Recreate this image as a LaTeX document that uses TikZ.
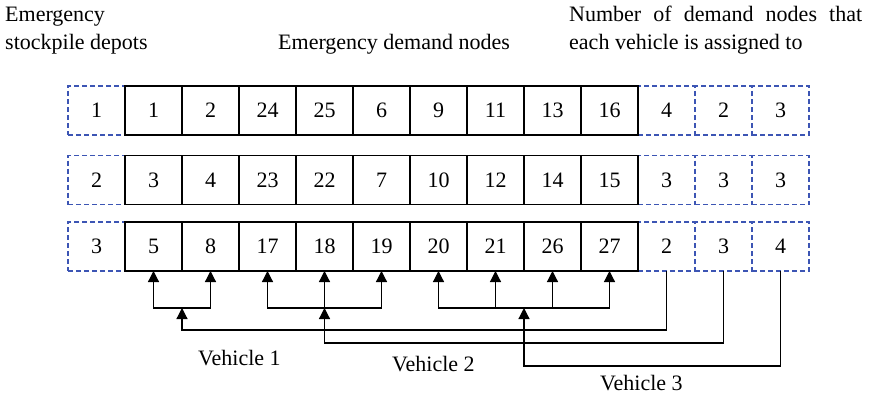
\documentclass[tikz,border=0pt]{standalone}
\usepackage{fontspec}
\setmainfont{Liberation Serif}
\usetikzlibrary{arrows.meta}
\definecolor{dblue}{RGB}{60,85,180}
\begin{document}
\begin{tikzpicture}[x=1pt,y=-1pt,
  every node/.style={font=\fontsize{22}{26}\selectfont},
  cell/.style={draw=black, line width=1.2pt, minimum width=57pt, minimum height=49pt, inner sep=0pt, outer sep=0pt},
  dcell/.style={draw=dblue, dash pattern=on 5pt off 3pt, line width=1.2pt, minimum width=57pt, minimum height=49pt, inner sep=0pt, outer sep=0pt},
  link/.style={line width=1.2pt, draw=black},
  arr/.style={link, -{Triangle[length=11pt,width=11pt]}},
  arrs/.style={link, {Triangle[length=11pt,width=11pt]}-{Triangle[length=11pt,width=11pt]}},
  lbl/.style={anchor=base west, inner sep=0pt}
]
\useasboundingbox (0,0) rectangle (881,396);

% row 1
\node[dcell] (r1c0) at (96.5,110.5) {1};
\foreach \v [count=\i from 10] in {4,2,3} \node[dcell] (r1c\i) at ({96.5+57*\i},110.5) {\v};
\foreach \v [count=\i] in {1,2,24,25,6,9,11,13,16} \node[cell] (r1c\i) at ({96.5+57*\i},110.5) {\v};
% row 2
\node[dcell] (r2c0) at (96.5,180) {2};
\foreach \v [count=\i from 10] in {3,3,3} \node[dcell] (r2c\i) at ({96.5+57*\i},180) {\v};
\foreach \v [count=\i] in {3,4,23,22,7,10,12,14,15} \node[cell] (r2c\i) at ({96.5+57*\i},180) {\v};
% row 3
\node[dcell] (r3c0) at (96.5,246.5) {3};
\foreach \v [count=\i from 10] in {2,3,4} \node[dcell] (r3c\i) at ({96.5+57*\i},246.5) {\v};
\foreach \v [count=\i] in {5,8,17,18,19,20,21,26,27} \node[cell] (r3c\i) at ({96.5+57*\i},246.5) {\v};

% headings
\node[lbl] (t1) at (5,21.7) {Emergency};
\node[lbl] (t2) at (5,49.5) {stockpile depots};
\node[lbl] (t3) at (278,49.5) {Emergency demand nodes};
\node[lbl] (t4) at (569,21.7) {\hbox to 293pt{Number\hfill of\hfill demand\hfill nodes\hfill that}};
\node[lbl] (t5) at (569,49.5) {each vehicle is assigned to};

% connectors
\coordinate (h) at (0,308);
\coordinate (g1) at (0,330);
\coordinate (g2) at (0,343);
\coordinate (g3) at (0,366);

\draw[arrs] (r3c1.south) -- (r3c1.south |- h) -- (r3c2.south |- h) -- (r3c2.south);
\draw[arrs] (r3c3.south) -- (r3c3.south |- h) -- (r3c5.south |- h) -- (r3c5.south);
\draw[arr] (r3c4.south |- h) -- (r3c4.south);
\draw[arrs] (r3c6.south) -- (r3c6.south |- h) -- (r3c9.south |- h) -- (r3c9.south);
\draw[arr] (r3c7.south |- h) -- (r3c7.south);
\draw[arr] (r3c8.south |- h) -- (r3c8.south);

\draw[arr] (r3c10.south) -- (r3c10.south |- g1) -- (r3c1.south east |- g1) -- (r3c1.south east |- h);
\draw[arr] (r3c11.south) -- (r3c11.south |- g2) -- (r3c4.south |- g2) -- (r3c4.south |- h);
\draw[arr] (r3c12.south) -- (r3c12.south |- g3) -- (r3c7.south east |- g3) -- (r3c7.south east |- h);

% vehicle labels
\node[lbl] (v1) at (198,365) {Vehicle 1};
\node[lbl] (v2) at (392,371.5) {Vehicle 2};
\node[lbl] (v3) at (600,390) {Vehicle 3};
\end{tikzpicture}
\end{document}
